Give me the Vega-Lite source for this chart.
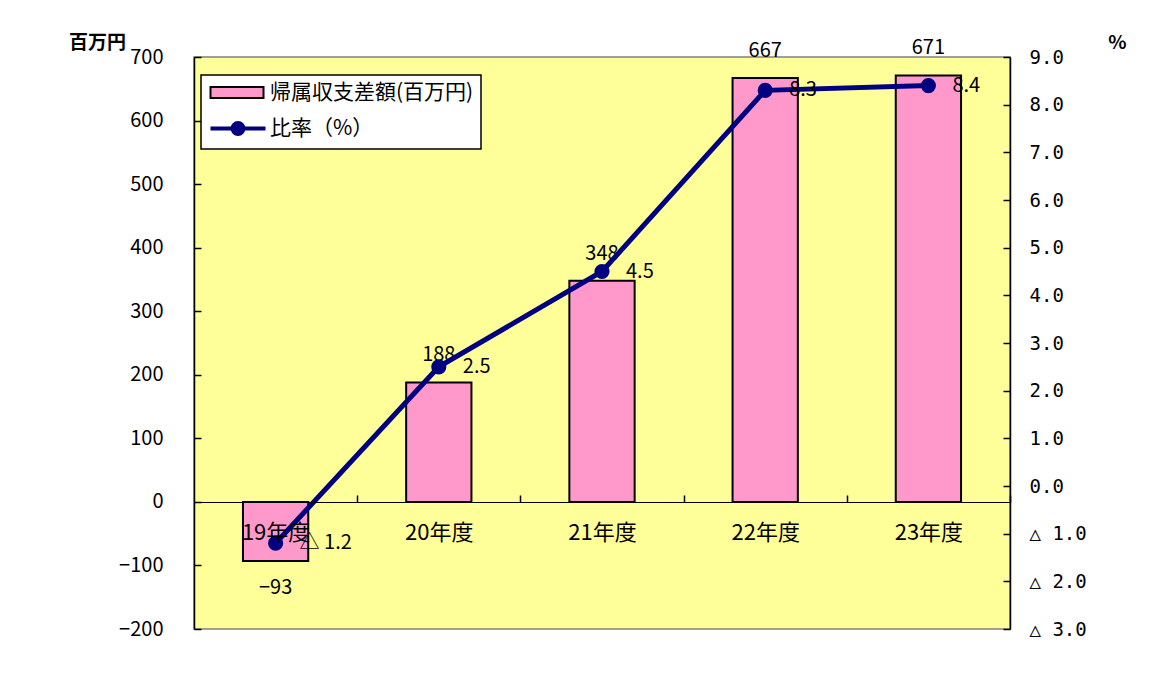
{
  "$schema": "https://vega.github.io/schema/vega-lite/v6.json",
  "width": 816,
  "height": 572,
  "autosize": {"type": "none"},
  "padding": {"left": 194, "top": 57, "right": 164, "bottom": 47},
  "background": "white",
  "config": {
    "view": {"fill": "#FFFF99", "stroke": "#808080", "strokeWidth": 1.5},
    "font": "Noto Sans CJK JP",
    "axis": {"grid": false, "domainColor": "black", "tickColor": "black", "labelColor": "black", "labelFont": "Noto Sans CJK JP", "labelFontSize": 20, "titleColor": "black", "domainWidth": 1.5, "tickWidth": 1.5},
    "legend": {"orient": "none", "legendX": 7, "legendY": 18, "strokeColor": "black", "strokeWidth": 1.5, "fillColor": "white", "padding": 7, "symbolSize": 400, "labelOffset": 41, "rowPadding": 12, "labelFont": "Noto Sans CJK JP", "labelFontSize": 21, "labelColor": "black", "labelLimit": 400}
  },
  "data": {"values": [
    {"year": "19年度", "amount": -93, "ratio": -1.2},
    {"year": "20年度", "amount": 188, "ratio": 2.5},
    {"year": "21年度", "amount": 348, "ratio": 4.5},
    {"year": "22年度", "amount": 667, "ratio": 8.3},
    {"year": "23年度", "amount": 671, "ratio": 8.4}
  ]},
  "encoding": {
    "x": {"field": "year", "type": "nominal", "sort": null,
      "scale": {"paddingInner": 0.6, "paddingOuter": 0.3},
      "axis": {"title": null, "labelAngle": 0, "offset": -127, "tickSize": -7, "tickOffset": 81.6, "labelOffset": -81.6, "labelPadding": 27, "labelFontSize": 22, "labelBaseline": "top", "domainWidth": 1, "domainColor": "black", "zindex": 1}}
  },
  "layer": [
    {
      "encoding": {"y": {"field": "amount", "type": "quantitative",
        "scale": {"domain": [-200, 700], "nice": false},
        "axis": {"title": "百万円", "values": [-200, -100, 0, 100, 200, 300, 400, 500, 600, 700], "tickSize": -7, "labelPadding": 38, "titleAngle": 0, "titleX": -97, "titleY": -15, "titleAlign": "center", "titleBaseline": "middle", "titleFontSize": 19, "titleFontWeight": "bold", "titleFont": "Noto Sans CJK JP"}}},
      "layer": [
        {"mark": {"type": "bar", "stroke": "black", "strokeWidth": 2, "opacity": 1},
         "encoding": {"fill": {"datum": "帰属収支差額(百万円)", "type": "nominal",
           "scale": {"domain": ["帰属収支差額(百万円)", "比率（%）"], "range": ["#FF99CC", "#000080"]},
           "legend": {"title": null,
             "encoding": {"symbols": {
               "shape": {"value": {"expr": "datum.value === '比率（%）' ? 'M-0.8,0H4.7M1.4,0A0.55,0.55 0 1,0 2.5,0A0.55,0.55 0 1,0 1.4,0Z' : 'M-0.8,-0.55H4.5V0.55H-0.8Z'"}},
               "stroke": {"value": {"expr": "datum.value === '比率（%）' ? '#000080' : '#000000'"}},
               "strokeWidth": {"value": {"expr": "datum.value === '比率（%）' ? 4 : 2"}},
               "opacity": {"value": 1},
               "fillOpacity": {"value": 1},
               "strokeOpacity": {"value": 1}
             }}}}}},
        {"transform": [{"filter": "datum.amount >= 0"}],
         "mark": {"type": "text", "dy": -27, "baseline": "middle", "fontSize": 20, "color": "black"},
         "encoding": {"text": {"field": "amount", "type": "quantitative"}}},
        {"transform": [{"filter": "datum.amount < 0"}],
         "mark": {"type": "text", "dy": 27, "baseline": "middle", "fontSize": 20, "color": "black"},
         "encoding": {"text": {"field": "amount", "type": "quantitative"}}}
      ]
    },
    {
      "encoding": {"y": {"field": "ratio", "type": "quantitative",
        "scale": {"domain": [-3, 9], "nice": false},
        "axis": {"orient": "right", "title": "%", "values": [-3, -2, -1, 0, 1, 2, 3, 4, 5, 6, 7, 8, 9], "tickSize": -7, "labelPadding": 26, "labelFont": "DejaVu Sans Mono", "labelFontSize": 19,
          "labelExpr": "datum.value < 0 ? '△ ' + format(-datum.value, '.1f') : format(datum.value, '.1f')",
          "titleAngle": 0, "titleX": 107, "titleY": -15, "titleAlign": "center", "titleBaseline": "middle", "titleFontSize": 19, "titleFontWeight": "bold", "titleFont": "Noto Sans CJK JP"}}},
      "layer": [
        {"mark": {"type": "line", "strokeWidth": 5, "color": "#000080"}, "encoding": {}},
        {"mark": {"type": "point", "filled": true, "size": 230, "strokeWidth": 0, "opacity": 1},
         "encoding": {"fill": {"datum": "比率（%）", "type": "nominal",
           "legend": {"title": null,
             "encoding": {"symbols": {
               "shape": {"value": {"expr": "datum.value === '比率（%）' ? 'M-0.8,0H4.7M1.4,0A0.55,0.55 0 1,0 2.5,0A0.55,0.55 0 1,0 1.4,0Z' : 'M-0.8,-0.55H4.5V0.55H-0.8Z'"}},
               "stroke": {"value": {"expr": "datum.value === '比率（%）' ? '#000080' : '#000000'"}},
               "strokeWidth": {"value": {"expr": "datum.value === '比率（%）' ? 4 : 2"}},
               "opacity": {"value": 1},
               "fillOpacity": {"value": 1},
               "strokeOpacity": {"value": 1}
             }}}}}},
        {"transform": [{"calculate": "datum.ratio < 0 ? '△ ' + format(-datum.ratio, '.1f') : format(datum.ratio, '.1f')", "as": "ratioLabel"}],
         "mark": {"type": "text", "dx": 24, "align": "left", "baseline": "middle", "fontSize": 20, "color": "black"},
         "encoding": {"text": {"field": "ratioLabel", "type": "nominal"}}}
      ]
    }
  ],
  "resolve": {"scale": {"y": "independent"}}
}
